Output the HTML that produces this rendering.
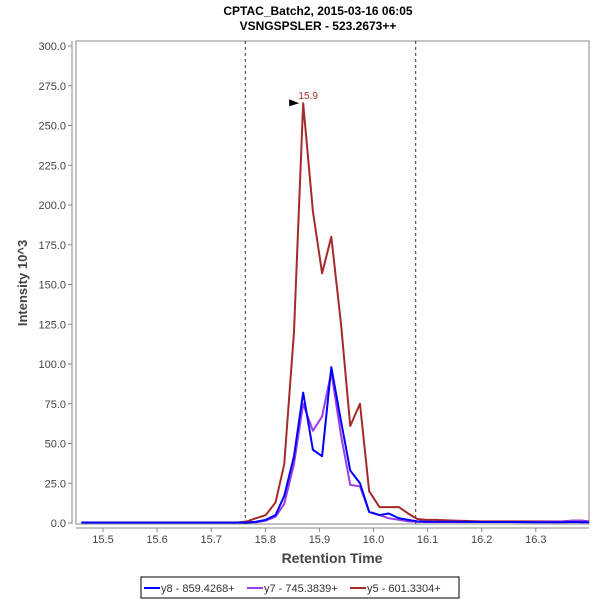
<!DOCTYPE html>
<html><head><meta charset="utf-8"><style>
body{margin:0;background:#fff;}
svg{font-family:"Liberation Sans",sans-serif;}
</style></head><body>
<svg id="chart" width="600" height="600">
<text x="318" y="15" text-anchor="middle" font-size="12" font-weight="bold">CPTAC_Batch2, 2015-03-16 06:05</text>
<text x="318" y="30" text-anchor="middle" font-size="12" font-weight="bold">VSNGSPSLER - 523.2673++</text>
<rect x="76" y="41" width="513" height="483" fill="#fff" stroke="#888"/>
<line x1="72" y1="41" x2="72" y2="524" stroke="#888"/>
<line x1="76" y1="528" x2="589" y2="528" stroke="#888"/>
<g id="yticks"></g><g id="xticks"></g><g id="marks"></g>
<text transform="translate(27,283) rotate(-90)" text-anchor="middle" font-size="13" font-weight="bold" fill="#444">Intensity 10^3</text>
<text x="332" y="563" text-anchor="middle" font-size="14" font-weight="bold" fill="#444">Retention Time</text>
<g>
<rect x="141" y="577" width="318" height="21" fill="#fff" stroke="#000"/>
<line x1="144" y1="588" x2="160" y2="588" stroke="#0000ff" stroke-width="2"/>
<text x="161" y="592" font-size="11" fill="#333">y8 - 859.4268+</text>
<line x1="247" y1="588" x2="263" y2="588" stroke="#9a3de8" stroke-width="2"/>
<text x="264" y="592" font-size="11" fill="#333">y7 - 745.3839+</text>
<line x1="350" y1="588" x2="366" y2="588" stroke="#a52a2a" stroke-width="2"/>
<text x="367" y="592" font-size="11" fill="#333">y5 - 601.3304+</text>
</g>
</svg>
<script>
const times=[15.46,15.55,15.65,15.749,15.766,15.783,15.801,15.819,15.835,15.853,15.870,15.888,15.905,15.922,15.940,15.957,15.975,15.992,16.011,16.028,16.047,16.064,16.081,16.098,16.115,16.15,16.2,16.25,16.3,16.35,16.37,16.385,16.398];
const y8=[0.3,0.3,0.3,0.3,0.3,0.8,2,5,17,42,82,46,42,98,64,33,25,7,5,6,3,2,1,0.8,0.8,0.8,0.6,0.6,0.5,0.5,0.6,0.5,0.5];
const y7=[0.2,0.2,0.2,0.2,0.2,0.5,1.5,4,12,37,75,58,67,95,55,24,23,7,5,3,2,1,0.8,0.6,0.6,0.6,0.6,0.6,0.6,1,1.5,1.5,0.8];
const y5=[0.3,0.3,0.3,0.3,1,3,5,13,37,120,264,196,157,180,125,61,75,20,10,10,10,6,2.5,2,2,1.5,1,1,1,1,1.5,1.5,1];
const yTicks=[0,25,50,75,100,125,150,175,200,225,250,275,300];
const xTicks=[15.5,15.6,15.7,15.8,15.9,16.0,16.1,16.2,16.3];
const bounds=[15.763,16.078];
const X=t=>103+(t-15.5)*541, Y=v=>523-v*1.59;
const NS='http://www.w3.org/2000/svg';
function mk(tag,attrs,parent){const e=document.createElementNS(NS,tag);for(const k in attrs)e.setAttribute(k,attrs[k]);parent.appendChild(e);return e;}
const yg=document.getElementById('yticks'),xg=document.getElementById('xticks'),mg=document.getElementById('marks');
yTicks.forEach(v=>{mk('line',{x1:68,x2:72,y1:Y(v),y2:Y(v),stroke:'#888'},yg);
const t=mk('text',{x:66,y:Y(v)+4,'text-anchor':'end','font-size':11,fill:'#444'},yg);t.textContent=v.toFixed(1);

});
xTicks.forEach(v=>{mk('line',{x1:X(v),x2:X(v),y1:528,y2:532,stroke:'#888'},xg);
const t=mk('text',{x:X(v),y:543,'text-anchor':'middle','font-size':11,fill:'#444'},xg);t.textContent=v.toFixed(1);

});
bounds.forEach(b=>{const l=mk('line',{x1:X(b),x2:X(b),y1:41,y2:524,stroke:'#333','stroke-dasharray':'3,3'},mg);

});
[[y5,'#a52a2a','series-y5'],[y7,'#9a3de8','series-y7'],[y8,'#0000ff','series-y8']].forEach(([s,c,n])=>{
const p=mk('polyline',{points:times.map((t,i)=>X(t)+','+Y(s[i])).join(' '),fill:'none',stroke:c,'stroke-width':2,'stroke-linejoin':'round'},mg);

});
let mi=y5.indexOf(Math.max(...y5));
const px=X(times[mi]),py=Y(y5[mi]);
const tri=mk('polygon',{points:`${px-14},${py-4} ${px-4},${py} ${px-14},${py+3}`,fill:'#000'},mg);


const lab=mk('text',{x:px+5,y:py-4,'text-anchor':'middle','font-size':10,fill:'#a52a2a'},mg);lab.textContent=times[mi].toFixed(1);


</script>
</body></html>
